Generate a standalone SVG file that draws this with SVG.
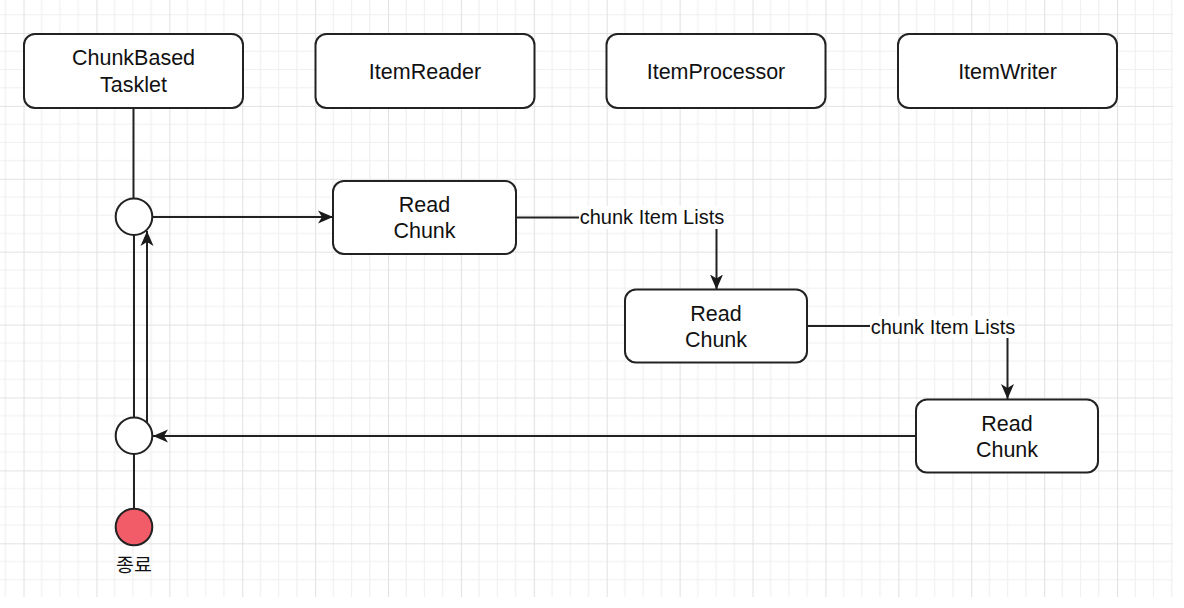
<svg xmlns="http://www.w3.org/2000/svg" width="1184" height="608" viewBox="0 0 1184 608">
  <defs>
    <pattern id="grid" patternUnits="userSpaceOnUse" x="23.5" y="33" width="72.9" height="72.9">
      <path d="M18.225 0V72.9M36.45 0V72.9M54.675 0V72.9M0 18.225H72.9M0 36.45H72.9M0 54.675H72.9" stroke="#f0f0f0" stroke-width="1.2" fill="none"/>
      <path d="M0.5 0V72.9M0 0.5H72.9" stroke="#e2e2e2" stroke-width="1.2" fill="none"/>
    </pattern>
    <marker id="arrow" viewBox="0 0 16 14" refX="15" refY="7" markerWidth="16" markerHeight="14" markerUnits="userSpaceOnUse" orient="auto">
      <path d="M0 0.5 L15 7 L0 13.5 L4 7 Z" fill="#1a1a1a"/>
    </marker>
    <style>
      .box { fill: #ffffff; stroke: #222222; stroke-width: 2; }
      .circ { fill: #ffffff; stroke: #222222; stroke-width: 2; }
      .line { fill: none; stroke: #222222; stroke-width: 2; }
      .t { font-family: "Liberation Sans", Arial, Helvetica, sans-serif; font-size: 21.5px; fill: #111111; text-anchor: middle; }
      .lbl { font-family: "Liberation Sans", Arial, Helvetica, sans-serif; font-size: 20px; fill: #111111; text-anchor: middle; }
      .kr { font-family: "Liberation Sans", "Noto Sans CJK KR", sans-serif; font-size: 19.5px; fill: #111111; text-anchor: middle; }
    </style>
  </defs>
  <rect x="0" y="0" width="1184" height="608" fill="#ffffff"/>
  <rect x="0" y="0" width="1173" height="597" fill="url(#grid)"/>

  <g id="connectors">
    <path class="line" d="M133.5 108 V198.5"/>
    <path class="line" d="M134 235 V417.5"/>
    <path class="line" d="M134 454 V508.5"/>
    <path class="line" d="M152.5 217 H333" marker-end="url(#arrow)"/>
    <path class="line" d="M147 422.5 V231" marker-end="url(#arrow)"/>
    <path class="line" d="M516 217.5 H716.5 V289.5" marker-end="url(#arrow)"/>
    <path class="line" d="M807 326 H1007.5 V399" marker-end="url(#arrow)"/>
    <path class="line" d="M916 436 H153" marker-end="url(#arrow)"/>
    <g id="label1">
      <rect x="579" y="206" width="147" height="23" fill="#ffffff"/>
      <text class="lbl" x="652" y="224">chunk Item Lists</text>
    </g>
    <g id="label2">
      <rect x="870" y="316" width="147" height="22" fill="#ffffff"/>
      <text class="lbl" x="943" y="333.5">chunk Item Lists</text>
    </g>
  </g>

  <g id="chunkBasedTasklet">
    <rect class="box" x="24" y="34" width="219" height="74" rx="11"/>
    <text class="t" x="133.5" y="65">ChunkBased</text>
    <text class="t" x="133.5" y="92">Tasklet</text>
  </g>
  <g id="itemReader">
    <rect class="box" x="315.5" y="34" width="219" height="74" rx="11"/>
    <text class="t" x="425" y="78.5">ItemReader</text>
  </g>
  <g id="itemProcessor">
    <rect class="box" x="606.5" y="34" width="219" height="74" rx="11"/>
    <text class="t" x="716" y="78.5">ItemProcessor</text>
  </g>
  <g id="itemWriter">
    <rect class="box" x="898" y="34" width="219" height="74" rx="11"/>
    <text class="t" x="1007.5" y="78.5">ItemWriter</text>
  </g>

  <g id="readChunk1">
    <rect class="box" x="333" y="181" width="183" height="73" rx="11"/>
    <text class="t" x="424.5" y="211.5">Read</text>
    <text class="t" x="424.5" y="237.5">Chunk</text>
  </g>
  <g id="readChunk2">
    <rect class="box" x="625" y="289.5" width="182" height="73" rx="11"/>
    <text class="t" x="716" y="320.5">Read</text>
    <text class="t" x="716" y="346.5">Chunk</text>
  </g>
  <g id="readChunk3">
    <rect class="box" x="916" y="399.5" width="182" height="73" rx="11"/>
    <text class="t" x="1007" y="430.5">Read</text>
    <text class="t" x="1007" y="456.5">Chunk</text>
  </g>

  <g id="loopStart">
    <circle class="circ" cx="134" cy="216.7" r="18.3"/>
  </g>
  <g id="loopEnd">
    <circle class="circ" cx="134" cy="435.7" r="18.3"/>
  </g>
  <g id="end">
    <circle cx="134" cy="527" r="18.3" fill="#F25C68" stroke="#222222" stroke-width="2"/>
    <text class="kr" x="134" y="572">종료</text>
  </g>
</svg>
